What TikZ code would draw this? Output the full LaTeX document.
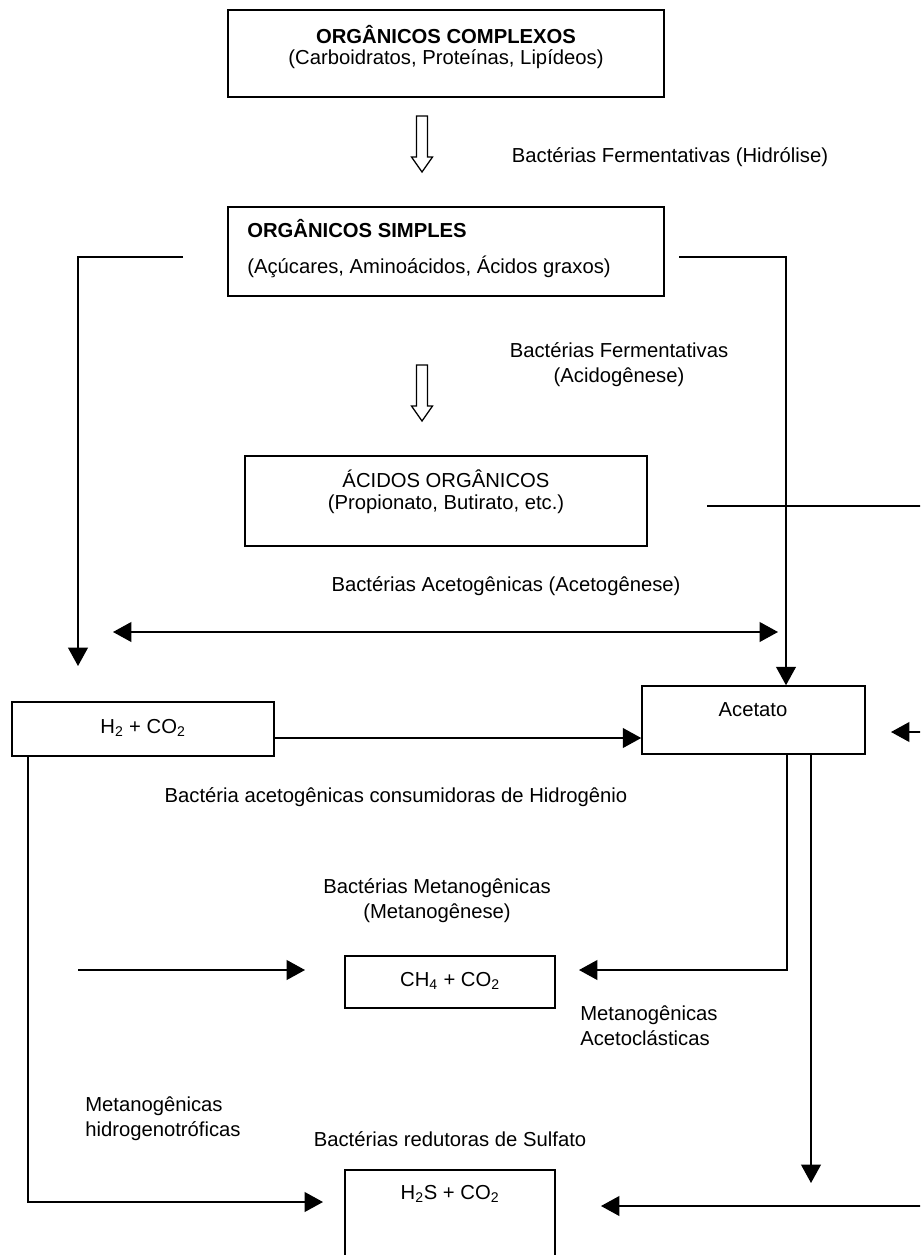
\documentclass[tikz,border=0pt]{standalone}
\usepackage{fontspec}
\setmainfont{Liberation Sans}
\usetikzlibrary{arrows.meta}

\tikzset{
  box/.style 2 args={draw, line width=1.1pt, minimum width=#1*0.025cm, minimum height=#2*0.025cm, inner sep=0pt},
  flow/.style={line width=1.1pt, ->},
  hollow/.style={line width=0.9pt, line join=miter},
  lbl/.style={inner sep=0pt, font=\fontsize{14.4}{17.8}\selectfont},
}

\begin{document}
\begin{tikzpicture}[x=0.025cm, y=-0.025cm, >={Triangle[length=13pt,width=14pt]}]

  % Page frame
  \useasboundingbox (0,0) rectangle (920,1255);
  \clip (0,0) rectangle (920,1255);

  % Boxes
  \node[box={436}{87}]  (complexos) at (446,53.5) {};
  \node[box={436}{89}]  (simples)   at (446,251.5) {};
  \node[box={402}{90}]  (acidos)    at (446,501) {};
  \node[box={223}{68}]  (acetato)   at (753.5,720) {};
  \node[box={262}{54}]  (htwo)      at (143,729) {};
  \node[box={210}{52}]  (metano)    at (450,982) {};
  \node[box={210}{130}] (sulfeto)   at (450,1235) {}; % runs off the page

  % Box texts
  \node[lbl] (complexosA) at (446,35) {\bfseries ORGÂNICOS COMPLEXOS};
  \node[lbl] (complexosB) at (446,59) {(Carboidratos, Proteínas, Lipídeos)};
  \node[lbl, anchor=west] (simplesA) at (247,229) {\bfseries ORGÂNICOS SIMPLES};
  \node[lbl, anchor=west] (simplesB) at (247,267) {(Açúcares, Aminoácidos, Ácidos graxos)};
  \node[lbl] (acidosA) at (446,479) {ÁCIDOS ORGÂNICOS};
  \node[lbl] (acidosB) at (446,504) {(Propionato, Butirato, etc.)};
  \node[lbl] (acetatoT) at (753,710) {Acetato};
  \node[lbl] (htwoT) at (143,728) {H\textsubscript{2} + CO\textsubscript{2}};
  \node[lbl] (metanoT) at (450,981) {CH\textsubscript{4} + CO\textsubscript{2}};
  \node[lbl] (sulfetoT) at (450,1194) {H\textsubscript{2}S + CO\textsubscript{2}};

  % Labels
  \node[lbl] (hidrolise) at (670,157) {Bactérias Fermentativas (Hidrólise)};
  \node[lbl, align=center] (acidogenese) at (619,365) {Bactérias Fermentativas\\(Acidogênese)};
  \node[lbl] (acetogenese) at (506,586) {Bactérias Acetogênicas (Acetogênese)};
  \node[lbl] (consumidoras) at (396,797) {Bactéria acetogênicas consumidoras de Hidrogênio};
  \node[lbl, align=center] (metanogenese) at (437,901) {Bactérias Metanogênicas\\(Metanogênese)};
  \node[lbl, align=left, anchor=west] (acetoclasticas) at (580,1026) {Metanogênicas\\Acetoclásticas};
  \node[lbl, align=left, anchor=west] (hidrogeno) at (85,1119) {Metanogênicas\\hidrogenotróficas};
  \node[lbl] (sulfato) at (450,1139) {Bactérias redutoras de Sulfato};

  % Hollow arrows between the top boxes
  \coordinate (hA) at (422,116);
  \coordinate (hB) at (422,365);
  \foreach \h in {hA,hB}
    \draw[hollow] (\h) ++(-5.5,0) -- ++(0,41) -- ++(-5,0) -- ++(10.5,15)
      -- ++(10.5,-15) -- ++(-5,0) -- ++(0,-41) -- cycle;

  % Simples -> H2 + CO2 (left) and -> Acetato (right)
  \coordinate (simplesL) at (183,257);
  \coordinate (htwoIn) at (78,666);
  \draw[flow] (simplesL) -| (htwoIn);
  \coordinate (simplesR) at (679,257);
  \coordinate (simplesRR) at (786,257);
  \draw[flow] (simplesR) -- (simplesRR) -- (simplesRR |- acetato.north);

  % Acidos -> Acetato and -> H2S (line leaves the page on the right)
  \coordinate (acidosR) at (707,506);
  \coordinate (edgeA) at (940,506);
  \coordinate (edgeB) at (940,1206);
  \coordinate (acetatoIn) at (891,732);
  \coordinate (sulfetoIn) at (601,1206);
  \draw[line width=1.1pt] (acidosR) -- (edgeA) -- (edgeB);
  \draw[flow] (edgeA |- acetatoIn) -- (acetatoIn);
  \draw[flow] (edgeB) -- (sulfetoIn);

  % Acetogenese double arrow
  \coordinate (acetL) at (113,632);
  \coordinate (acetR) at (778,632);
  \draw[line width=1.1pt, <->] (acetL) -- (acetR);

  % H2 + CO2 -> Acetato
  \coordinate (hline) at (0,738);
  \draw[flow] (htwo.east |- hline) -- (acetato.west |- hline);

  % Acetato -> CH4 + CO2 and -> H2S + CO2
  \coordinate (metanoR) at (579,970);
  \coordinate (colA) at (787,0);
  \draw[flow] (acetato.south -| colA) |- (metanoR);
  \coordinate (sulfetoDrop) at (811,1183);
  \draw[flow] (acetato.south -| sulfetoDrop) -- (sulfetoDrop);

  % Hidrogenotroficas -> CH4 + CO2 and H2 + CO2 -> H2S + CO2
  \coordinate (metanoL0) at (78,970);
  \coordinate (metanoL) at (305,970);
  \draw[flow] (metanoL0) -- (metanoL);
  \coordinate (htwoDown) at (28,0);
  \coordinate (sulfetoL) at (323,1202);
  \draw[flow] (htwo.south -| htwoDown) |- (sulfetoL);

\end{tikzpicture}
\end{document}
